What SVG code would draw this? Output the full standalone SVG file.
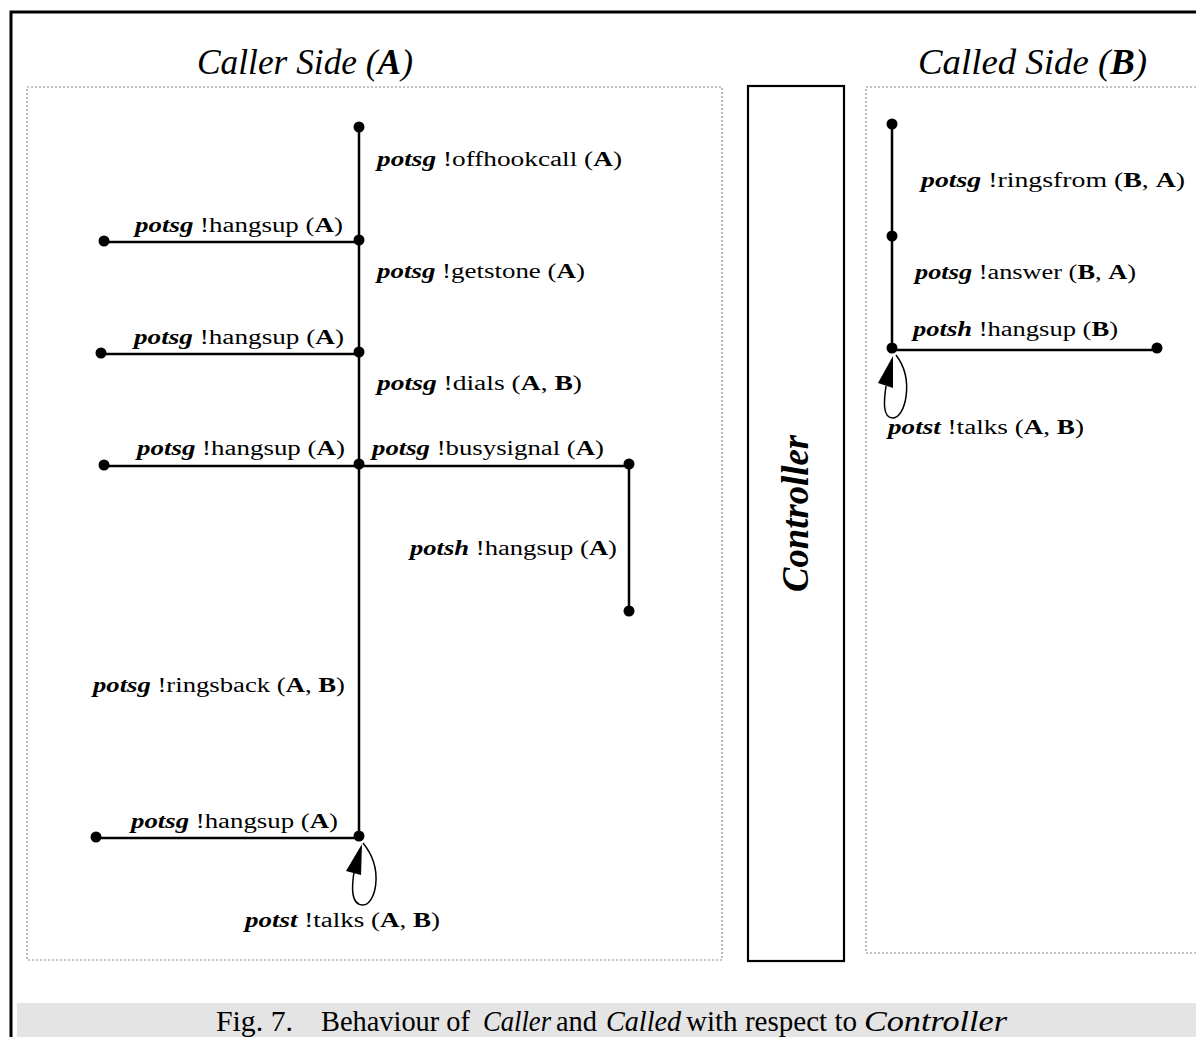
<svg xmlns="http://www.w3.org/2000/svg" width="1196" height="1037" viewBox="0 0 1196 1037">
  <style>
    text { font-family: "Liberation Serif", "Times New Roman", serif; fill: #000; }
    .lbl { font-size: 20px; }
    .title { font-size: 35px; font-style: italic; }
    .cap { font-size: 30px; }
    .b { font-weight: bold; }
    .bi { font-weight: bold; font-style: italic; }
    .i { font-style: italic; }
    .edge { stroke: #000; stroke-width: 2.5; fill: none; }
    .loop { stroke: #000; stroke-width: 1.5; fill: none; }
    .area { stroke: #8a8a8a; stroke-width: 1.2; stroke-dasharray: 2 2; fill: none; }
  </style>
  <defs>
    <circle id="dot" r="5.5" fill="#000"/>
  </defs>

  <rect width="1196" height="1037" fill="#fff"/>

  <!-- outer frame -->
  <path d="M11 1037 V12 H1196" fill="none" stroke="#000" stroke-width="3"/>

  <!-- caption band -->
  <rect x="17" y="1003" width="1179" height="34" fill="#e4e4e4"/>
  <g id="caption" class="cap">
    <text class="cap" x="216" y="1031" textLength="77" lengthAdjust="spacingAndGlyphs">Fig. 7.</text>
    <text class="cap" x="321" y="1031" textLength="149" lengthAdjust="spacingAndGlyphs">Behaviour of</text>
    <text class="cap i" x="483" y="1031" textLength="68" lengthAdjust="spacingAndGlyphs">Caller</text>
    <text class="cap" x="556" y="1031" textLength="41" lengthAdjust="spacingAndGlyphs">and</text>
    <text class="cap i" x="606" y="1031" textLength="75" lengthAdjust="spacingAndGlyphs">Called</text>
    <text class="cap" x="686" y="1031" textLength="171" lengthAdjust="spacingAndGlyphs">with respect to</text>
    <text class="cap i" x="864" y="1031" textLength="143" lengthAdjust="spacingAndGlyphs">Controller</text>
  </g>

  <!-- side areas -->
  <g id="caller-area">
    <rect class="area" x="27" y="87" width="695" height="873"/>
    <text class="title" x="197" y="74" textLength="216" lengthAdjust="spacingAndGlyphs">Caller Side (<tspan class="b">A</tspan>)</text>
  </g>
  <g id="called-area">
    <path class="area" d="M1196 87 H866 V953 H1196"/>
    <text class="title" x="918" y="74" textLength="229" lengthAdjust="spacingAndGlyphs">Called Side (<tspan class="b">B</tspan>)</text>
  </g>
  <g id="controller">
    <rect x="748" y="86" width="96" height="875" fill="none" stroke="#000" stroke-width="2.2"/>
    <text class="bi" style="font-size:38px" transform="translate(808 592) rotate(-90)" textLength="157" lengthAdjust="spacingAndGlyphs">Controller</text>
  </g>

  <!-- transitions -->
  <g id="connectors">
    <line class="edge" x1="359" y1="127" x2="359" y2="836"/>
    <line class="edge" x1="104" y1="242" x2="359" y2="242"/>
    <line class="edge" x1="101" y1="354" x2="359" y2="354"/>
    <line class="edge" x1="104" y1="466" x2="629" y2="466"/>
    <line class="edge" x1="629" y1="464" x2="629" y2="611"/>
    <line class="edge" x1="96" y1="838" x2="359" y2="838"/>
    <path class="loop" d="M363 843 C385 870 375 905 363 905 C350 905 352 885 354 872"/>
    <polygon points="362,844 346,871 361,875" fill="#000"/>

    <line class="edge" x1="892" y1="124" x2="892" y2="348"/>
    <line class="edge" x1="892" y1="350" x2="1157" y2="350"/>
    <path class="loop" d="M896 355 C915 380 905 418 893 418 C882 418 884 400 886 386"/>
    <polygon points="893,356 878,383 893,388" fill="#000"/>
  </g>

  <!-- states -->
  <g id="a-states">
    <use href="#dot" x="359" y="127"/>
    <use href="#dot" x="359" y="240"/>
    <use href="#dot" x="104" y="241"/>
    <use href="#dot" x="359" y="352"/>
    <use href="#dot" x="101" y="353"/>
    <use href="#dot" x="359" y="464"/>
    <use href="#dot" x="104" y="465"/>
    <use href="#dot" x="629" y="464"/>
    <use href="#dot" x="629" y="611"/>
    <use href="#dot" x="359" y="836"/>
    <use href="#dot" x="96" y="837"/>
  </g>
  <g id="b-states">
    <use href="#dot" x="892" y="124"/>
    <use href="#dot" x="892" y="236"/>
    <use href="#dot" x="892" y="348"/>
    <use href="#dot" x="1157" y="348"/>
  </g>

  <!-- transition labels -->
  <g id="a-labels">
    <text class="lbl" x="377" y="166" textLength="245" lengthAdjust="spacingAndGlyphs"><tspan class="bi">potsg</tspan> !offhookcall (<tspan class="b">A</tspan>)</text>
    <text class="lbl" x="135" y="232" textLength="208" lengthAdjust="spacingAndGlyphs"><tspan class="bi">potsg</tspan> !hangsup (<tspan class="b">A</tspan>)</text>
    <text class="lbl" x="377" y="278" textLength="208" lengthAdjust="spacingAndGlyphs"><tspan class="bi">potsg</tspan> !getstone (<tspan class="b">A</tspan>)</text>
    <text class="lbl" x="134" y="344" textLength="210" lengthAdjust="spacingAndGlyphs"><tspan class="bi">potsg</tspan> !hangsup (<tspan class="b">A</tspan>)</text>
    <text class="lbl" x="377" y="390" textLength="205" lengthAdjust="spacingAndGlyphs"><tspan class="bi">potsg</tspan> !dials (<tspan class="b">A</tspan>, <tspan class="b">B</tspan>)</text>
    <text class="lbl" x="137" y="455" textLength="208" lengthAdjust="spacingAndGlyphs"><tspan class="bi">potsg</tspan> !hangsup (<tspan class="b">A</tspan>)</text>
    <text class="lbl" x="372" y="455" textLength="232" lengthAdjust="spacingAndGlyphs"><tspan class="bi">potsg</tspan> !busysignal (<tspan class="b">A</tspan>)</text>
    <text class="lbl" x="410" y="555" textLength="207" lengthAdjust="spacingAndGlyphs"><tspan class="bi">potsh</tspan> !hangsup (<tspan class="b">A</tspan>)</text>
    <text class="lbl" x="93" y="692" textLength="252" lengthAdjust="spacingAndGlyphs"><tspan class="bi">potsg</tspan> !ringsback (<tspan class="b">A</tspan>, <tspan class="b">B</tspan>)</text>
    <text class="lbl" x="131" y="828" textLength="207" lengthAdjust="spacingAndGlyphs"><tspan class="bi">potsg</tspan> !hangsup (<tspan class="b">A</tspan>)</text>
    <text class="lbl" x="245" y="927" textLength="195" lengthAdjust="spacingAndGlyphs"><tspan class="bi">potst</tspan> !talks (<tspan class="b">A</tspan>, <tspan class="b">B</tspan>)</text>
  </g>
  <g id="b-labels">
    <text class="lbl" x="921" y="187" textLength="264" lengthAdjust="spacingAndGlyphs"><tspan class="bi">potsg</tspan> !ringsfrom (<tspan class="b">B</tspan>, <tspan class="b">A</tspan>)</text>
    <text class="lbl" x="915" y="279" textLength="221" lengthAdjust="spacingAndGlyphs"><tspan class="bi">potsg</tspan> !answer (<tspan class="b">B</tspan>, <tspan class="b">A</tspan>)</text>
    <text class="lbl" x="913" y="336" textLength="205" lengthAdjust="spacingAndGlyphs"><tspan class="bi">potsh</tspan> !hangsup (<tspan class="b">B</tspan>)</text>
    <text class="lbl" x="888" y="434" textLength="196" lengthAdjust="spacingAndGlyphs"><tspan class="bi">potst</tspan> !talks (<tspan class="b">A</tspan>, <tspan class="b">B</tspan>)</text>
  </g>
</svg>
